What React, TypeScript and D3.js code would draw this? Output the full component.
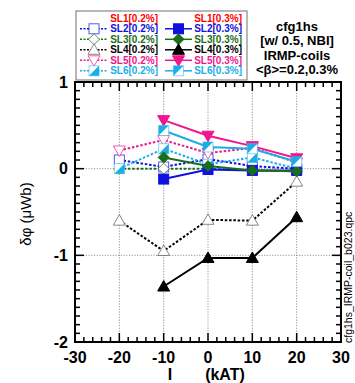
import React from "react";
import * as d3 from "d3";

const currents = [-20, -10, 0, 10, 20];

// values per series (null = no point)
const SL2_02 = [0.1, 0.02, 0.11, 0.03, 0.0];
const SL2_03 = [null, -0.12, -0.01, -0.02, -0.02];
const SL3_02 = [0.0, 0.0, 0.0, -0.02, -0.03];
const SL3_03 = [null, 0.13, 0.03, -0.02, -0.03];
const SL4_02 = [-0.6, -0.95, -0.59, -0.6, -0.15];
const SL4_03 = [null, -1.36, -1.03, -1.03, -0.56];
const SL5_02 = [0.21, 0.33, 0.18, 0.24, 0.07];
const SL5_03 = [null, 0.56, 0.38, 0.26, 0.12];
const SL6_02 = [0.0, 0.23, 0.05, 0.13, 0.0];
const SL6_03 = [null, 0.44, 0.25, 0.23, 0.08];

const xTicks = [-30, -20, -10, 0, 10, 20, 30];
const yTicks = [1, 0, -1, -2];
const annotation = ["cfg1hs", "[w/ 0.5, NBI]", "IRMP-coils", "<\u03B2>=0.2,0.3%"];

type Marker = "sq" | "dia" | "tri" | "dtri" | "half02" | "half03" | "none";
interface Series {
  name: string;
  color: string;
  values: (number | null)[];
  dashed: boolean;
  marker: Marker;
  filled: boolean;
}

const RED = "#ff0000";
const BLUE = "#1010e0";
const GREEN = "#1a6e1a";
const BLACK = "#000000";
const MAG = "#f0168c";
const CYAN = "#1aaee8";

const series02: Series[] = [
  { name: "SL1[0.2%]", color: RED, values: [], dashed: true, marker: "none", filled: false },
  { name: "SL2[0.2%]", color: BLUE, values: SL2_02, dashed: true, marker: "sq", filled: false },
  { name: "SL3[0.2%]", color: GREEN, values: SL3_02, dashed: true, marker: "dia", filled: false },
  { name: "SL4[0.2%]", color: BLACK, values: SL4_02, dashed: true, marker: "tri", filled: false },
  { name: "SL5[0.2%]", color: MAG, values: SL5_02, dashed: true, marker: "dtri", filled: false },
  { name: "SL6[0.2%]", color: CYAN, values: SL6_02, dashed: true, marker: "half02", filled: true },
];
const series03: Series[] = [
  { name: "SL1[0.3%]", color: RED, values: [], dashed: false, marker: "none", filled: true },
  { name: "SL2[0.3%]", color: BLUE, values: SL2_03, dashed: false, marker: "sq", filled: true },
  { name: "SL3[0.3%]", color: GREEN, values: SL3_03, dashed: false, marker: "dia", filled: true },
  { name: "SL4[0.3%]", color: BLACK, values: SL4_03, dashed: false, marker: "tri", filled: true },
  { name: "SL5[0.3%]", color: MAG, values: SL5_03, dashed: false, marker: "dtri", filled: true },
  { name: "SL6[0.3%]", color: CYAN, values: SL6_03, dashed: false, marker: "half03", filled: true },
];

const X0 = 75, X1 = 341, Y0 = 82, Y1 = 342;
const x = d3.scaleLinear().domain([-30, 30]).range([X0, X1]);
const y = d3.scaleLinear().domain([-2, 1]).range([Y1, Y0]);

const FONT = "'Liberation Sans', Arial, Helvetica, sans-serif";

function MarkerShape({ m, cx, cy, color, filled }: { m: Marker; cx: number; cy: number; color: string; filled: boolean }) {
  const s = 5;
  const openStroke = color === BLACK ? "#555" : color;
  const fill = filled ? color : "white";
  const stroke = filled ? color : openStroke;
  const sw = 1;
  const op = filled ? 1 : 0.7;
  if (m === "sq") {
    return <rect x={cx - s} y={cy - s} width={2 * s} height={2 * s} fill={fill} stroke={stroke} strokeWidth={sw} strokeOpacity={op} />;
  }
  if (m === "dia") {
    const r = 5.5;
    return <path d={`M${cx},${cy - r}L${cx + r},${cy}L${cx},${cy + r}L${cx - r},${cy}Z`} fill={fill} stroke={stroke} strokeWidth={sw} strokeOpacity={op} />;
  }
  if (m === "tri") {
    const r = 6;
    return <path d={`M${cx},${cy - r}L${cx + r},${cy + r * 0.75}L${cx - r},${cy + r * 0.75}Z`} fill={fill} stroke={stroke} strokeWidth={sw} strokeOpacity={op} />;
  }
  if (m === "dtri") {
    const r = 6;
    return <path d={`M${cx},${cy + r}L${cx + r},${cy - r * 0.75}L${cx - r},${cy - r * 0.75}Z`} fill={fill} stroke={stroke} strokeWidth={sw} strokeOpacity={op} />;
  }
  if (m === "half02") {
    return (
      <g>
        <rect x={cx - s} y={cy - s} width={2 * s} height={2 * s} fill="white" stroke={color} strokeWidth={sw} strokeOpacity={0.5} />
        <path d={`M${cx + s},${cy - s}L${cx + s},${cy + s}L${cx - s},${cy + s}Z`} fill={color} />
      </g>
    );
  }
  if (m === "half03") {
    return (
      <g>
        <rect x={cx - s} y={cy - s} width={2 * s} height={2 * s} fill="white" stroke={color} strokeWidth={sw} strokeOpacity={0.5} />
        <path d={`M${cx - s},${cy - s}L${cx + s},${cy - s}L${cx - s},${cy + s}Z`} fill={color} />
      </g>
    );
  }
  return null;
}

export default function App() {
  const line = d3
    .line<[number, number | null]>()
    .defined((d) => d[1] !== null)
    .x((d) => x(d[0]))
    .y((d) => y(d[1] as number));

  const xMinor = d3.range(-30, 30.01, 2);
  const yMinor = d3.range(-2, 1.001, 0.1);

  const allSeries = [...series02, ...series03];
  const legendRowY = (i: number) => 18.3 + i * 10.5;

  return (
    <svg width={355} height={383} style={{ position: "absolute", left: 0, top: 0 }} fontFamily={FONT}>
      <rect x={0} y={0} width={355} height={383} fill="white" />
      {/* grid */}
      {[-20, -10, 0, 10, 20].map((v) => (
        <line key={"gx" + v} x1={x(v)} x2={x(v)} y1={Y0} y2={Y1} stroke="#777" strokeWidth={0.8} strokeDasharray="1.2,1.5" />
      ))}
      {[0, -1].map((v) => (
        <line key={"gy" + v} x1={X0} x2={X1} y1={y(v)} y2={y(v)} stroke="#777" strokeWidth={0.8} strokeDasharray="1.2,1.5" />
      ))}
      {/* ticks */}
      {xMinor.map((v, i) => {
        const major = Math.abs(v % 10) < 1e-6;
        const L = major ? 9 : 5;
        return (
          <g key={"xt" + i}>
            <line x1={x(v)} x2={x(v)} y1={Y1} y2={Y1 - L} stroke="black" strokeWidth={1.5} />
            <line x1={x(v)} x2={x(v)} y1={Y0} y2={Y0 + L} stroke="black" strokeWidth={1.5} />
          </g>
        );
      })}
      {yMinor.map((v, i) => {
        const major = Math.abs(v - Math.round(v)) < 1e-6;
        const L = major ? 9 : 5;
        return (
          <g key={"yt" + i}>
            <line x1={X0} x2={X0 + L} y1={y(v)} y2={y(v)} stroke="black" strokeWidth={1.5} />
            <line x1={X1} x2={X1 - L} y1={y(v)} y2={y(v)} stroke="black" strokeWidth={1.5} />
          </g>
        );
      })}
      {/* lines */}
      {allSeries
        .filter((s) => s.values.length)
        .map((s) => (
          <path
            key={"l" + s.name}
            d={line(currents.map((c, i) => [c, s.values[i]] as [number, number | null])) || ""}
            fill="none"
            stroke={s.color}
            strokeWidth={2}
            strokeDasharray={s.dashed ? "2.5,1.8" : undefined}
          />
        ))}
      {/* markers */}
      {allSeries
        .filter((s) => s.values.length)
        .map((s) =>
          currents.map((c, i) =>
            s.values[i] === null ? null : (
              <MarkerShape key={s.name + i} m={s.marker} cx={x(c)} cy={y(s.values[i] as number)} color={s.color} filled={s.filled} />
            )
          )
        )}
      {/* frame */}
      <rect x={X0} y={Y0} width={X1 - X0} height={Y1 - Y0} fill="none" stroke="black" strokeWidth={2} />
      {/* tick labels */}
      {xTicks.map((v) => (
        <text key={"xl" + v} x={x(v)} y={363} textAnchor="middle" fontSize={16} fontWeight="bold">
          {v}
        </text>
      ))}
      {yTicks.map((v) => (
        <text key={"yl" + v} x={68} y={y(v) + 5.5} textAnchor="end" fontSize={16} fontWeight="bold">
          {v}
        </text>
      ))}
      {/* axis titles */}
      <text x={170} y={380} textAnchor="middle" fontSize={16} fontWeight="bold">I</text>
      <text x={225} y={380} textAnchor="middle" fontSize={16} fontWeight="bold">(kAT)</text>
      <text transform="translate(31,214) rotate(-90)" textAnchor="middle" fontSize={15}>
        {"\u03B4\u03C6 (\u03BCWb)"}
      </text>
      <text transform="translate(352,343) rotate(-90)" textAnchor="start" fontSize={10.5}>
        cfg1hs_IRMP-coil_b023.qpc
      </text>
      {/* legend */}
      <rect x={76} y={11} width={171} height={69} fill="white" stroke="#888" strokeWidth={1.2} />
      {series02.map((s, i) => {
        const cy = legendRowY(i);
        return (
          <g key={"lg02" + i}>
            {s.marker !== "none" && (
              <>
                <line x1={80} x2={108} y1={cy} y2={cy} stroke={s.color} strokeWidth={1.5} strokeDasharray="2,1.5" />
                <MarkerShape m={s.marker} cx={94} cy={cy} color={s.color} filled={s.filled} />
              </>
            )}
            <text x={158} y={cy + 3.6} textAnchor="end" fontSize={10} fontWeight="bold" fill={s.color}>
              {s.name}
            </text>
          </g>
        );
      })}
      {series03.map((s, i) => {
        const cy = legendRowY(i);
        return (
          <g key={"lg03" + i}>
            {s.marker !== "none" && (
              <>
                <line x1={165} x2={192} y1={cy} y2={cy} stroke={s.color} strokeWidth={1.5} />
                <MarkerShape m={s.marker} cx={178.5} cy={cy} color={s.color} filled={s.filled} />
              </>
            )}
            <text x={242} y={cy + 3.6} textAnchor="end" fontSize={10} fontWeight="bold" fill={s.color}>
              {s.name}
            </text>
          </g>
        );
      })}
      {/* annotation */}
      {annotation.map((t, i) => (
        <text key={"an" + i} x={297} y={31 + i * 14.3} textAnchor="middle" fontSize={13} fontWeight="bold">
          {t}
        </text>
      ))}
    </svg>
  );
}
